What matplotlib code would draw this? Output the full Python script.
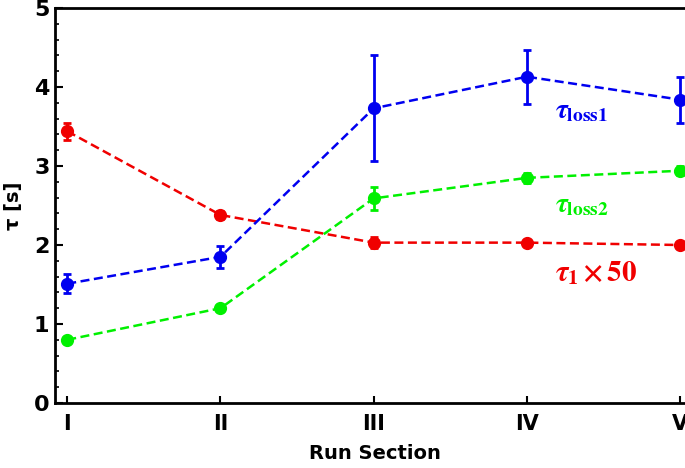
import matplotlib
matplotlib.use("Agg")
import matplotlib.pyplot as plt
from matplotlib.ticker import MultipleLocator

plt.rcParams['mathtext.fontset'] = 'stix'

sections = ["I", "II", "III", "IV", "V"]
x = [1, 2, 3, 4, 5]

tau_loss1 = [1.51, 1.85, 3.73, 4.13, 3.84]
tau_loss1_err = [0.12, 0.14, 0.67, 0.34, 0.29]

tau_loss2 = [0.80, 1.20, 2.59, 2.85, 2.94]
tau_loss2_err = [0.02, 0.03, 0.15, 0.06, 0.06]

tau1_x50 = [3.44, 2.38, 2.03, 2.03, 2.00]
tau1_x50_err = [0.11, 0.05, 0.07, 0.03, 0.03]

blue = "#0000f0"
green = "#00f000"
red = "#f00000"

fig = plt.figure(figsize=(6.85, 4.68), dpi=100)
ax = fig.add_axes([0.0803, 0.1389, 0.935, 0.844])

for y, e, c in [(tau1_x50, tau1_x50_err, red),
                (tau_loss1, tau_loss1_err, blue),
                (tau_loss2, tau_loss2_err, green)]:
    ax.errorbar(x, y, yerr=e, color=c, marker='o', markersize=8.5,
                linestyle=(0, (3.6, 1.8)), linewidth=1.8, elinewidth=2,
                capsize=3, capthick=2, clip_on=False, zorder=3)

ax.set_xlim(0.92, 5.1)
ax.set_ylim(0, 5)
ax.set_xticks(x)
ax.set_xticklabels(sections)
ax.yaxis.set_major_locator(MultipleLocator(1))
ax.yaxis.set_minor_locator(MultipleLocator(0.2))

for s in ['left', 'bottom', 'top']:
    ax.spines[s].set_linewidth(2)
ax.spines['right'].set_visible(False)

ax.tick_params(axis='y', which='major', direction='in', length=6, width=1.5,
               labelsize=16, pad=4)
ax.tick_params(axis='y', which='minor', direction='in', length=3, width=1.2)
ax.tick_params(axis='x', which='major', direction='in', length=5, width=1.5,
               labelsize=15, pad=8)
for lab in ax.get_xticklabels() + ax.get_yticklabels():
    lab.set_fontweight('bold')

ax.set_xlabel("Run Section", fontsize=14, fontweight='bold', labelpad=7)
ax.set_ylabel("τ [s]", fontsize=14, fontweight='bold', labelpad=8)

ax.text(4.18, 3.70, r"$\boldsymbol{\tau}_{\mathbf{loss1}}$", color=blue,
        fontsize=20, ha='left', va='center')
ax.text(4.18, 2.52, r"$\boldsymbol{\tau}_{\mathbf{loss2}}$", color=green,
        fontsize=20, ha='left', va='center')
ax.text(4.18, 1.65, r"$\boldsymbol{\tau}_{\mathbf{1}}\,\mathbf{\times\,50}$", color=red,
        fontsize=21, ha='left', va='center')

fig.savefig("out.png", dpi=100)
